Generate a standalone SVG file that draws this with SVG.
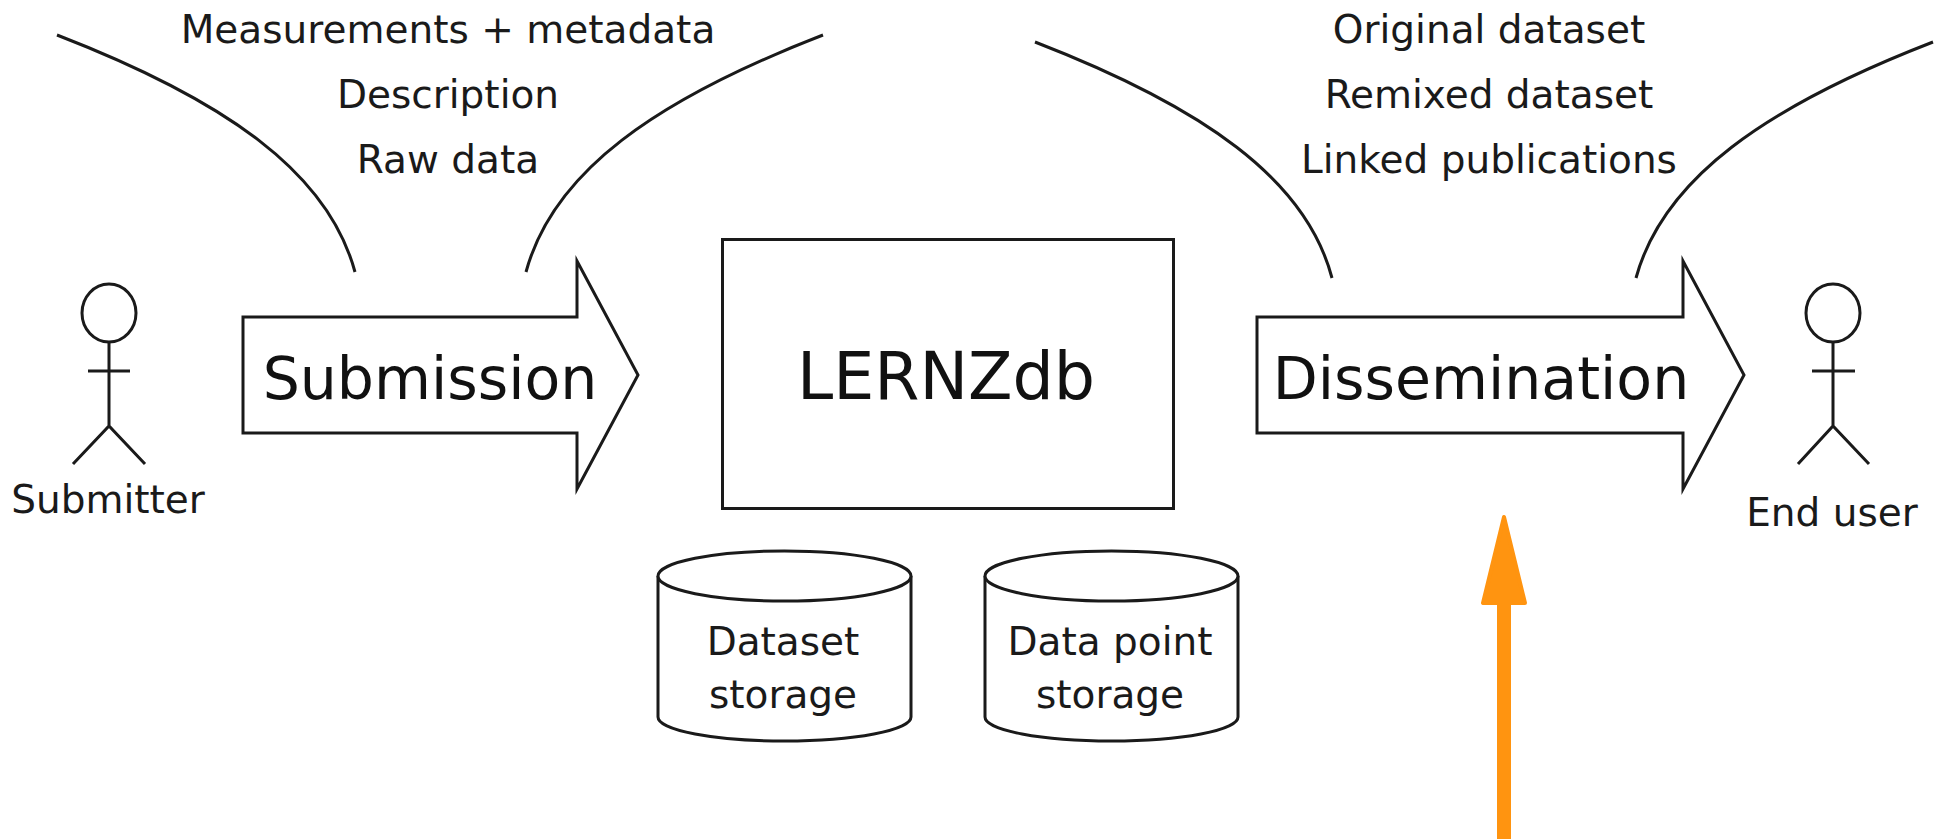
<svg xmlns="http://www.w3.org/2000/svg" width="1943" height="839" viewBox="0 0 1943 839">
<style>
.l{fill:none;stroke:#1a1a1a;stroke-width:3}
.s{fill:#fff;stroke:#1a1a1a;stroke-width:3;stroke-linejoin:miter;stroke-miterlimit:10}
text{font-family:"DejaVu Sans",sans-serif;fill:#1a1a1a;text-anchor:middle}
.a{font-size:39px}.b{font-size:58.500px;fill:#111}.c{font-size:65px;fill:#111}
</style>
<rect width="1943" height="839" fill="#fff"/>
<g id="connectors">
<path class="l" d="M57 35C225 100 328 172 355 272"/>
<path class="l" d="M823 35C655 100 553 172 526 272"/>
<path class="l" d="M1035 42C1203 107 1306 179 1332 278"/>
<path class="l" d="M1933 42C1765 107 1663 179 1636 278"/>
<g id="orange-arrow"><path d="M1504 839V604" fill="none" stroke="#ff9410" stroke-width="14"/><path d="M1504 517L1483 603H1525Z" fill="#ff9410" stroke="#ff9410" stroke-width="4" stroke-linejoin="round"/></g>
</g>
<g id="submission-labels">
<text class="a" x="448" y="43">Measurements + metadata</text>
<text class="a" x="448" y="108">Description</text>
<text class="a" x="448" y="173">Raw data</text>
</g>
<g id="dissemination-labels">
<text class="a" x="1489" y="43">Original dataset</text>
<text class="a" x="1489" y="108">Remixed dataset</text>
<text class="a" x="1489" y="173">Linked publications</text>
</g>
<g id="submitter">
<ellipse class="l" cx="109" cy="313" rx="27" ry="29"/>
<path class="l" d="M109 342V426M88 371H130M73 464L109 426L145 464"/>
<text class="a" x="108" y="513">Submitter</text>
</g>
<g id="submission">
<path class="s" d="M243 317H577V261L638 375L577 489V433H243Z"/>
<text class="b" x="430" y="399">Submission</text>
</g>
<g id="lernzdb">
<rect class="s" x="722.500" y="239.500" width="451" height="269"/>
<text class="c" x="946" y="399">LERNZdb</text>
</g>
<g id="dissemination">
<path class="s" d="M1257 317H1683V261L1744 375L1683 489V433H1257Z"/>
<text class="b" x="1481" y="399">Dissemination</text>
</g>
<g id="end-user">
<ellipse class="l" cx="1833" cy="313" rx="27" ry="29"/>
<path class="l" d="M1833 342V426M1812 371H1855M1798 464L1833 426L1869 464"/>
<text class="a" x="1832" y="526">End user</text>
</g>
<g id="dataset-storage">
<path class="s" d="M658 576V717A126.500 24 0 0 0 911 717V576"/>
<ellipse class="s" cx="784.500" cy="576" rx="126.500" ry="25"/>
<text class="a" x="783" y="655">Dataset</text>
<text class="a" x="783" y="708">storage</text>
</g>
<g id="data-point-storage">
<path class="s" d="M985 576V717A126.500 24 0 0 0 1238 717V576"/>
<ellipse class="s" cx="1111.500" cy="576" rx="126.500" ry="25"/>
<text class="a" x="1110" y="655">Data point</text>
<text class="a" x="1110" y="708">storage</text>
</g>
</svg>
